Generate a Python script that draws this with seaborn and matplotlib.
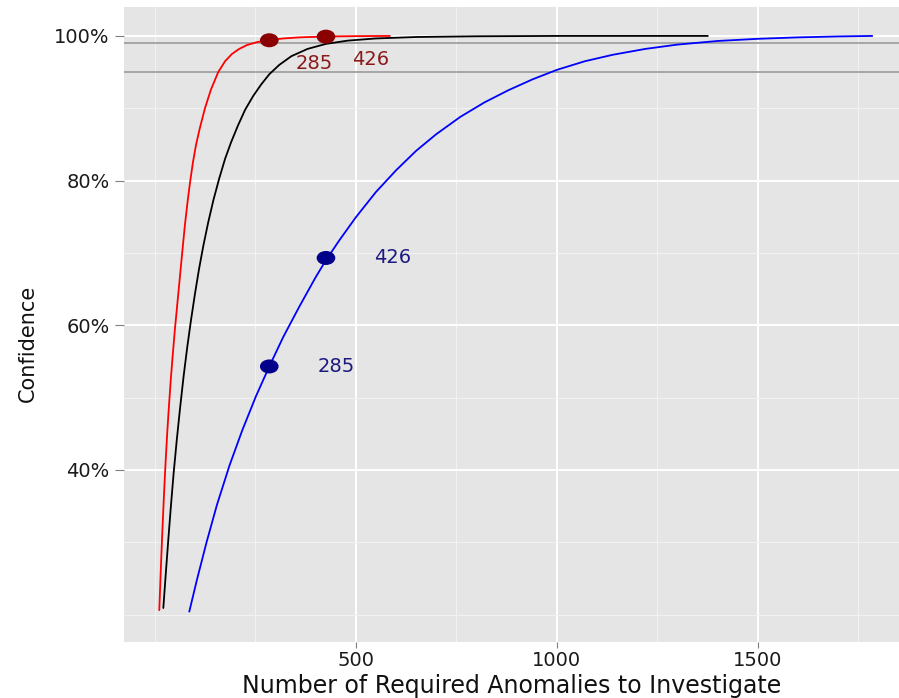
import numpy as np
import pandas as pd
import matplotlib
matplotlib.use("Agg")
import matplotlib.pyplot as plt
from matplotlib.path import Path
import seaborn as sns

# ---- data ----
red_x = [11.4, 15, 19, 23, 27, 31, 35, 40, 45, 50, 56, 62, 68, 75, 82, 88,
         95, 103, 112, 125, 140, 158, 175, 192, 210, 230, 255, 285, 320, 360,
         426, 500, 585]
red_y = [20.6, 26.0, 31.5, 36.5, 41.0, 45.0, 48.5, 52.5, 56.0, 59.3, 62.8,
         66.3, 69.8, 73.8, 77.2, 79.8, 82.5, 85.0, 87.2, 90.0, 92.6, 95.0,
         96.5, 97.5, 98.2, 98.75, 99.15, 99.45, 99.65, 99.8, 99.92, 99.97, 100.0]

black_x = [21.4, 28, 34, 40, 47, 55, 63, 72, 81, 90, 100, 110, 121, 133, 146,
           160, 175, 190, 207, 225, 245, 265, 285, 310, 340, 380, 426, 480,
           550, 650, 800, 1000, 1200, 1376]
black_y = [20.9, 26.0, 30.5, 34.8, 39.5, 44.2, 48.5, 53.0, 57.0, 60.6, 64.3,
           67.7, 71.0, 74.2, 77.3, 80.2, 83.0, 85.3, 87.6, 89.8, 91.7, 93.3,
           94.7, 96.0, 97.2, 98.2, 98.9, 99.35, 99.65, 99.85, 99.95, 100.0,
           100.0, 100.0]

blue_x = [86, 105, 129, 155, 186, 218, 252, 285, 320, 360, 400, 426, 460, 500,
          550, 600, 650, 700, 760, 820, 880, 940, 1000, 1070, 1140, 1220, 1300,
          1400, 1500, 1600, 1700, 1785]
blue_y = [20.4, 24.8, 30.0, 35.2, 40.6, 45.5, 50.2, 54.3, 58.4, 62.6, 66.6,
          69.0, 71.8, 74.9, 78.4, 81.4, 84.1, 86.4, 88.8, 90.8, 92.5, 94.0,
          95.3, 96.5, 97.4, 98.2, 98.8, 99.3, 99.6, 99.8, 99.93, 100.0]

marked_n = [285, 426]
red_marked_y = [99.4, 99.9]
blue_marked_y = [54.3, 69.3]
marked_labels = ["285", "426"]

x_major = [500, 1000, 1500]
x_minor = [0, 250, 750, 1250, 1750]
y_major = [40, 60, 80, 100]
y_minor = [20, 30, 50, 70, 90]
y_tick_labels = ["40%", "60%", "80%", "100%"]
ref_lines = [95, 99]

curves = pd.concat([
    pd.DataFrame({"n": red_x, "conf": red_y, "series": "red"}),
    pd.DataFrame({"n": black_x, "conf": black_y, "series": "black"}),
    pd.DataFrame({"n": blue_x, "conf": blue_y, "series": "blue"}),
], ignore_index=True)

points = pd.concat([
    pd.DataFrame({"n": marked_n, "conf": red_marked_y, "series": "dred"}),
    pd.DataFrame({"n": marked_n, "conf": blue_marked_y, "series": "dblue"}),
], ignore_index=True)

# ---- styling ----
sns.set_theme(style="white")
plt.rcParams["font.family"] = ["DejaVu Sans"]

fig = plt.figure(figsize=(8.99, 6.98), dpi=100)
ax = fig.add_axes([124 / 899, 56 / 698, 1 - 124 / 899, (642 - 7) / 698])
ax.set_facecolor("#E5E5E5")
for s in ax.spines.values():
    s.set_visible(False)

ax.set_xlim(-76.4, 1851.5)
ax.set_ylim(16.2, 104.0)

ax.set_xticks(x_major)
ax.set_xticklabels([str(v) for v in x_major])
ax.set_xticks(x_minor, minor=True)
ax.set_yticks(y_major)
ax.set_yticklabels(y_tick_labels)
ax.set_yticks(y_minor, minor=True)
ax.grid(which="major", color="white", lw=1.4)
ax.grid(which="minor", color="#F2F2F2", lw=0.8)
ax.set_axisbelow(True)
ax.tick_params(which="minor", length=0)
ax.tick_params(axis="x", which="major", length=4.5, width=0.8, color="#7F7F7F",
               labelsize=14, labelcolor="#1A1A1A", pad=2, bottom=True)
ax.tick_params(axis="y", which="major", length=6.5, width=0.8, color="#7F7F7F",
               labelsize=14, labelcolor="#1A1A1A", pad=4, left=True)

for v in ref_lines:
    ax.axhline(v, color="#A6A6A6", lw=1.4, zorder=1.5)

sns.lineplot(data=curves, x="n", y="conf", hue="series", sort=False,
             palette={"red": "#FF0000", "black": "#000000", "blue": "#0000FF"},
             hue_order=["red", "black", "blue"], lw=1.3, legend=False, ax=ax,
             zorder=3)

circ = Path.unit_circle()
ell = Path(circ.vertices * np.array([1.33, 1.0]), circ.codes)
sns.scatterplot(data=points, x="n", y="conf", hue="series",
                palette={"dred": "#8B0000", "dblue": "#00008B"},
                marker=ell, s=180, edgecolor="none", legend=False, ax=ax,
                zorder=4)

for n, yv, lab in zip(marked_n, red_marked_y, marked_labels):
    ax.text(n + 112, yv - 3.2, lab, color="#8B1A1A", fontsize=14,
            ha="center", va="center")
for n, yv, lab in zip(marked_n, blue_marked_y, marked_labels):
    ax.text(n + 167, yv, lab, color="#1A1A80", fontsize=14,
            ha="center", va="center")

ax.set_xlabel("Number of Required Anomalies to Investigate", fontsize=17,
              color="#111111", labelpad=3)
ax.set_ylabel("Confidence", fontsize=15, color="#111111")
ax.yaxis.set_label_coords(-0.111, 0.47)

fig.savefig("out.png", dpi=100)
